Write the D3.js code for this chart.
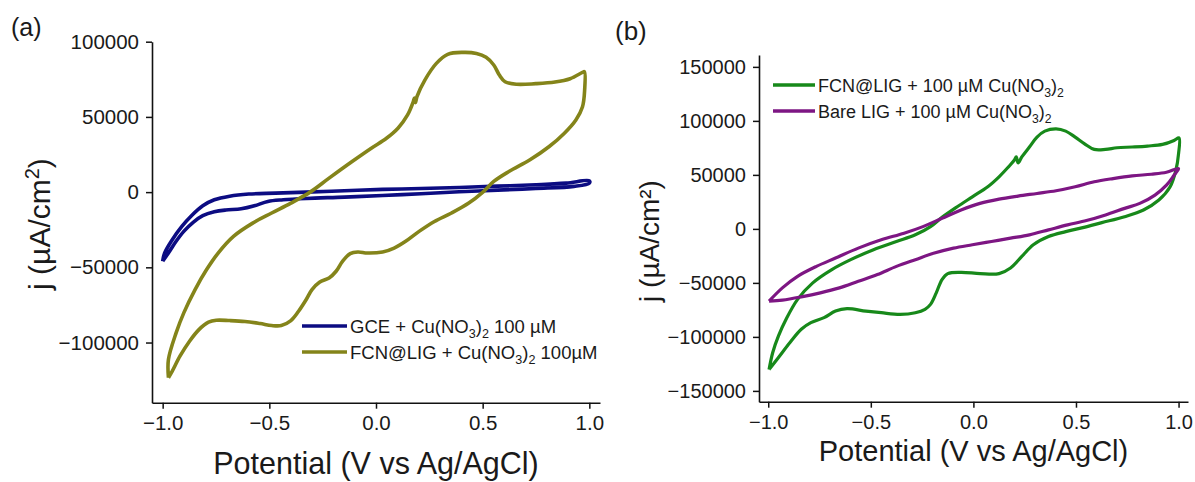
<!DOCTYPE html>
<html><head><meta charset="utf-8">
<script src="https://cdn.jsdelivr.net/npm/d3@7"></script>
<style>
body{margin:0;background:#fff}
svg{display:block}
text{font-family:"Liberation Sans",Arial,sans-serif;fill:#1a1a1a}
</style></head>
<body><svg id="c" width="1195" height="482"></svg>
<script>
// ---------- data ----------
const xTicks = [-1.0, -0.5, 0.0, 0.5, 1.0];
const yTicksA = [-100000, -50000, 0, 50000, 100000];
const yTicksB = [-150000, -100000, -50000, 0, 50000, 100000, 150000];

// Panel (a): GCE + Cu(NO3)2 100 µM
const gceV = [-1.0,-0.991,-0.955,-0.910,-0.865,-0.812,-0.758,-0.686,-0.596,-0.471,-0.327,-0.148,0.031,0.211,0.390,0.570,0.749,0.892,1.0,1.0,0.928,0.749,0.570,0.390,0.211,0.031,-0.148,-0.327,-0.435,-0.507,-0.570,-0.632,-0.704,-0.758,-0.812,-0.857,-0.901,-0.937,-0.973,-1.0];
const gceJ = [-46000,-40500,-31600,-22800,-15700,-9100,-5100,-2700,-1300,-700,0,900,1800,2400,3100,4000,4900,6000,7500,6000,3800,2400,1300,200,-1100,-2200,-3300,-4200,-5100,-6200,-9100,-11100,-11900,-13100,-15700,-20100,-26100,-32700,-40500,-46000];

// Panel (a): FCN@LIG + Cu(NO3)2 100 µM
const fcnAV = [-0.973,-0.973,-0.937,-0.901,-0.848,-0.794,-0.740,-0.668,-0.578,-0.489,-0.399,-0.309,-0.220,-0.112,-0.022,0.049,0.103,0.148,0.175,0.180,0.185,0.192,0.229,0.283,0.336,0.408,0.471,0.516,0.552,0.578,0.605,0.659,0.749,0.839,0.910,0.968,0.977,0.978,0.968,0.937,0.883,0.812,0.722,0.623,0.552,0.501,0.435,0.354,0.274,0.202,0.139,0.085,0.031,-0.040,-0.085,-0.121,-0.157,-0.187,-0.220,-0.265,-0.300,-0.327,-0.363,-0.399,-0.444,-0.489,-0.543,-0.614,-0.686,-0.749,-0.785,-0.830,-0.874,-0.919,-0.955,-0.973];
const fcnAJ = [-123400,-111300,-93600,-80300,-64800,-51500,-40500,-29400,-20600,-13900,-7300,0,9300,20350,29200,35800,42500,51300,60200,62500,59500,63500,74500,85600,91600,92900,92200,89600,84500,77900,73400,71700,72100,73200,75400,79600,80100,67900,56800,48000,39200,30300,21500,13700,7100,0,-7300,-13900,-19500,-26100,-32700,-37200,-39800,-40500,-39800,-40900,-46000,-52600,-57100,-59900,-64800,-71400,-79200,-85400,-88700,-88700,-87400,-86000,-85400,-85200,-86500,-91400,-99100,-109100,-119000,-123400];

// Panel (b): FCN@LIG + 100 µM Cu(NO3)2
const fcnBV = [-0.996,-0.978,-0.950,-0.913,-0.857,-0.783,-0.690,-0.598,-0.487,-0.375,-0.283,-0.209,-0.153,-0.079,-0.005,0.070,0.125,0.171,0.199,0.209,0.218,0.236,0.273,0.310,0.348,0.403,0.450,0.496,0.542,0.589,0.644,0.700,0.774,0.848,0.922,0.978,1.002,1.0,0.987,0.959,0.904,0.829,0.737,0.626,0.533,0.450,0.366,0.292,0.236,0.181,0.125,0.033,-0.060,-0.125,-0.153,-0.181,-0.209,-0.236,-0.283,-0.357,-0.449,-0.524,-0.616,-0.672,-0.728,-0.792,-0.839,-0.894,-0.950,-0.996];
const fcnBJ = [-130300,-114400,-99100,-83700,-65300,-50000,-37700,-28500,-19300,-11700,-5500,2100,10700,20500,29700,39000,48200,57400,63500,66600,61000,66600,75800,85000,90500,92600,90500,85000,78800,73600,73600,75100,75800,76700,78200,81900,84300,69600,54300,39000,26700,17500,11300,5800,1200,-2500,-7100,-14700,-25500,-36200,-41400,-41400,-40200,-41400,-46900,-59200,-69900,-74500,-77600,-79100,-77600,-76100,-73900,-76100,-82200,-86800,-92900,-105200,-119000,-130300];

// Panel (b): Bare LIG + 100 µM Cu(NO3)2
const bareV = [-0.996,-0.931,-0.857,-0.765,-0.672,-0.561,-0.449,-0.338,-0.246,-0.153,-0.060,0.032,0.125,0.218,0.310,0.403,0.496,0.589,0.681,0.774,0.867,0.941,1.0,0.978,0.941,0.885,0.811,0.737,0.644,0.551,0.459,0.366,0.273,0.181,0.088,-0.005,-0.097,-0.190,-0.283,-0.375,-0.468,-0.561,-0.653,-0.746,-0.839,-0.931,-0.996];
const bareJ = [-66900,-54600,-43900,-34700,-27000,-17800,-10100,-4000,2100,9800,17500,23600,27600,30400,32800,35300,39000,43600,46600,49100,50600,52400,55800,49700,40500,31300,23600,19000,12900,7700,3700,-900,-5500,-8600,-11700,-14700,-17800,-22400,-28500,-34700,-42300,-48500,-54600,-59200,-62900,-65900,-66900];

// ---------- drawing ----------
const svg = d3.select("#c");
const zip = (a, b) => a.map((v, i) => [v, b[i]]);

function panel(cfg) {
  const x = d3.scaleLinear().domain(cfg.xDom).range([cfg.left, cfg.right]);
  const y = d3.scaleLinear().domain(cfg.yDom).range([cfg.bottom, cfg.top]);
  const g = svg.append("g");

  const xa = g.append("g").attr("transform", `translate(0,${cfg.bottom})`)
    .call(d3.axisBottom(x).tickValues(xTicks).tickFormat(d3.format(".1f"))
      .tickSize(6).tickSizeOuter(0).tickPadding(7));
  const ya = g.append("g").attr("transform", `translate(${cfg.left},0)`)
    .call(d3.axisLeft(y).tickValues(cfg.yTicks).tickFormat(d3.format("d"))
      .tickSize(6).tickSizeOuter(0).tickPadding(7));
  [xa, ya].forEach(a => {
    a.select(".domain").attr("stroke", "#111").attr("stroke-width", 1.6);
    a.selectAll(".tick line").attr("stroke", "#111").attr("stroke-width", 1.5);
    a.selectAll(".tick text").attr("font-size", cfg.tickFont).attr("fill", "#1a1a1a")
      .style("font-family", '"Liberation Sans",Arial,sans-serif');
  });

  const line = d3.line().x(d => x(d[0])).y(d => y(d[1])).curve(d3.curveCatmullRom.alpha(0.5));
  cfg.series.forEach(s => {
    g.append("path").attr("d", line(zip(s.v, s.j))).attr("fill", "none")
      .attr("stroke", s.color).attr("stroke-width", cfg.lw).attr("stroke-linejoin", "round");
  });

  // legend
  cfg.series.forEach((s, i) => {
    const ly = cfg.legY + i * cfg.legDy;
    g.append("line").attr("x1", cfg.legX).attr("x2", cfg.legX + cfg.legLen)
      .attr("y1", ly).attr("y2", ly).attr("stroke", s.color).attr("stroke-width", 3.5);
    const t = g.append("text").attr("x", cfg.legX + cfg.legLen + 3).attr("y", ly + 7)
      .attr("font-size", cfg.legFont);
    let prevSub = false;
    s.label.forEach(p => {
      const sub = !!p[1];
      const dy = (sub ? 5 : 0) - (prevSub ? 5 : 0);
      const ts = t.append("tspan").attr("dy", dy).text(p[0]);
      if (sub) ts.attr("font-size", cfg.legFont * 0.68);
      prevSub = sub;
    });
  });

  // axis titles
  g.append("text").attr("x", (cfg.left + cfg.right) / 2).attr("y", cfg.xTitleY)
    .attr("text-anchor", "middle").attr("font-size", cfg.titleFont).text("Potential (V vs Ag/AgCl)");
  const yt = g.append("text").attr("transform", `translate(${cfg.yTitleX},${cfg.yTitleY}) rotate(-90)`)
    .attr("text-anchor", "middle").attr("font-size", cfg.yTitleFont);
  cfg.yTitle(yt);
  g.append("text").attr("x", cfg.tagX).attr("y", cfg.tagY).attr("font-size", cfg.tagFont).text(cfg.tag);
}

const subLabel = (pre, post) => [[pre + "Cu(NO"], ["3", true], [")"], ["2", true], [post]];

panel({
  xDom: [-1.05, 1.05], yDom: [-140000, 100000], left: 152, right: 600, top: 41.7, bottom: 402.7,
  yTicks: yTicksA, tickFont: 20.5, lw: 3.6,
  series: [
    {v: gceV, j: gceJ, color: "#0c0c82", label: subLabel("GCE + ", " 100 µM")},
    {v: fcnAV, j: fcnAJ, color: "#84841a", label: subLabel("FCN@LIG + ", " 100µM")}
  ],
  legX: 302, legY: 326, legDy: 26, legLen: 45, legFont: 18.5,
  xTitleY: 474, titleFont: 30.5, yTitleX: 50, yTitleY: 224, yTitleFont: 30,
  yTitle: t => { t.append("tspan").text("j (µA/cm"); t.append("tspan").attr("dy", -11).attr("font-size", 20).text("2"); t.append("tspan").attr("dy", 11).text(")"); },
  tag: "(a)", tagX: 11, tagY: 36, tagFont: 25
});

panel({
  xDom: [-1.045, 1.046], yDom: [-160000, 161000], left: 759, right: 1188, top: 55, bottom: 401.7,
  yTicks: yTicksB, tickFont: 20, lw: 3.2,
  series: [
    {v: fcnBV, j: fcnBJ, color: "#17891a", label: [["FCN@LIG + 100 µM Cu(NO"], ["3", true], [")"], ["2", true]]},
    {v: bareV, j: bareJ, color: "#7d1683", label: [["Bare LIG + 100 µM Cu(NO"], ["3", true], [")"], ["2", true]]}
  ],
  legX: 773, legY: 85, legDy: 26, legLen: 42, legFont: 18,
  xTitleY: 461, titleFont: 29, yTitleX: 659, yTitleY: 241, yTitleFont: 28,
  yTitle: t => { t.text("j (µA/cm²)"); },
  tag: "(b)", tagX: 615, tagY: 40, tagFont: 26
});
</script>
</body></html>
